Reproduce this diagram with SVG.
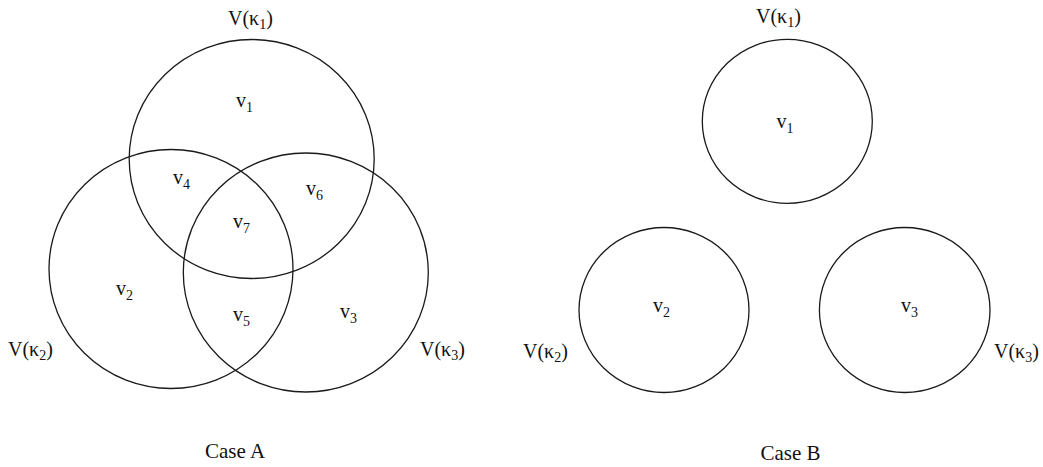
<svg xmlns="http://www.w3.org/2000/svg" width="1043" height="467" viewBox="0 0 1043 467">
<style>
.c{fill:none;stroke:#1a1a1a;stroke-width:1.3}
text{font-family:"Liberation Serif","Times New Roman",serif;font-size:20px;fill:#111}
.cap{font-size:21px}
.s{font-size:14px}
</style>
<rect width="1043" height="467" fill="#fff"/>
<g id="caseA">
<g id="A-k1"><ellipse class="c" cx="251.7" cy="159" rx="122.5" ry="119.5"/><text x="228" y="25">V(κ<tspan class="s" dy="4">1</tspan><tspan dy="-4">)</tspan></text></g>
<g id="A-k2"><ellipse class="c" cx="171" cy="269" rx="122" ry="119.5"/><text x="8" y="356">V(κ<tspan class="s" dy="4">2</tspan><tspan dy="-4">)</tspan></text></g>
<g id="A-k3"><ellipse class="c" cx="305.8" cy="272.5" rx="122.5" ry="119.5"/><text x="420" y="356">V(κ<tspan class="s" dy="4">3</tspan><tspan dy="-4">)</tspan></text></g>
<g id="A-labels">
<text x="236" y="107">v<tspan class="s" dy="5">1</tspan></text>
<text x="173" y="184">v<tspan class="s" dy="5">4</tspan></text>
<text x="306" y="195">v<tspan class="s" dy="5">6</tspan></text>
<text x="233" y="228">v<tspan class="s" dy="5">7</tspan></text>
<text x="116" y="295">v<tspan class="s" dy="5">2</tspan></text>
<text x="233" y="321">v<tspan class="s" dy="5">5</tspan></text>
<text x="340" y="318">v<tspan class="s" dy="5">3</tspan></text>
</g>
<text class="cap" x="205" y="458">Case A</text>
</g>
<g id="caseB">
<g id="B-k1"><ellipse class="c" cx="787.3" cy="121.3" rx="85" ry="82"/><text x="756" y="23">V(κ<tspan class="s" dy="4">1</tspan><tspan dy="-4">)</tspan></text><text x="776.5" y="128">v<tspan class="s" dy="5">1</tspan></text></g>
<g id="B-k2"><ellipse class="c" cx="664" cy="310" rx="85" ry="82.5"/><text x="523" y="358">V(κ<tspan class="s" dy="4">2</tspan><tspan dy="-4">)</tspan></text><text x="653" y="311.5">v<tspan class="s" dy="5">2</tspan></text></g>
<g id="B-k3"><ellipse class="c" cx="904.7" cy="310" rx="85.3" ry="82.5"/><text x="994" y="358">V(κ<tspan class="s" dy="4">3</tspan><tspan dy="-4">)</tspan></text><text x="901" y="311.5">v<tspan class="s" dy="5">3</tspan></text></g>
<text class="cap" x="760.5" y="460">Case B</text>
</g>
</svg>
